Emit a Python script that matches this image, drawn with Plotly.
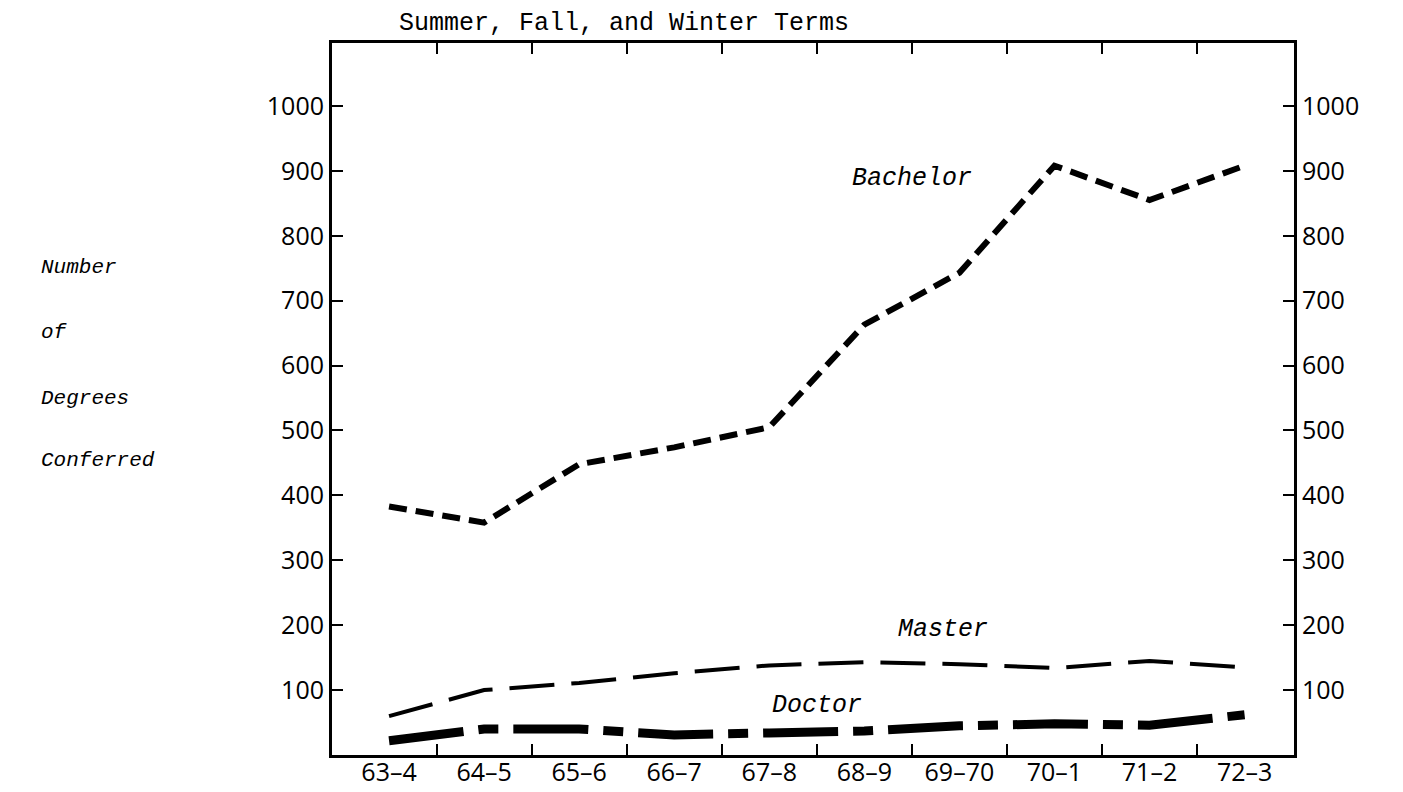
import plotly.graph_objects as go

years = ["63–4", "64–5", "65–6", "66–7", "67–8", "68–9", "69–70", "70–1", "71–2", "72–3"]
bachelor = [383, 358, 448, 474, 505, 663, 743, 908, 855, 908]
master = [60, 100, 111, 126, 138, 143, 140, 134, 145, 135]
doctor = [22, 40, 40, 31, 34, 37, 45, 48, 46, 62]
y_ticks = [100, 200, 300, 400, 500, 600, 700, 800, 900, 1000]

idx = list(range(len(years)))
boundaries = [i + 0.5 for i in idx[:-1]]

MONO = "Liberation Mono"
SANS = "Open Sans"

fig = go.Figure()
fig.add_trace(go.Scatter(x=idx, y=bachelor, mode="lines", name="Bachelor",
                         line=dict(color="black", width=6, dash="18px,9px"), hoverinfo="skip"))
fig.add_trace(go.Scatter(x=idx, y=master, mode="lines", name="Master", yaxis="y2",
                         line=dict(color="black", width=4, dash="45px,17px"), hoverinfo="skip"))
fig.add_trace(go.Scatter(x=idx, y=doctor, mode="lines", name="Doctor", xaxis="x2",
                         line=dict(color="black", width=9, dash="75px,15px,20px,15px"), hoverinfo="skip"))

axis_font = dict(family=SANS, size=25, color="black")
tick_style = dict(ticks="inside", ticklen=11, tickwidth=2, tickcolor="black")
fig.update_layout(
    width=1403, height=792,
    margin=dict(l=324, r=117, t=35, b=45, autoexpand=False),
    paper_bgcolor="white", plot_bgcolor="white",
    showlegend=False,
    # bottom/top frame with ticks between the terms
    xaxis=dict(range=[-0.6, 9.52], showgrid=False, zeroline=False, automargin=False,
               showline=True, linecolor="black", linewidth=3, mirror="ticks",
               tickvals=boundaries, showticklabels=False, **tick_style),
    # term labels under the axis
    xaxis2=dict(range=[-0.6, 9.52], overlaying="x", side="bottom", anchor="y", matches="x",
                showgrid=False, zeroline=False, showline=False, automargin=False,
                tickvals=idx, ticktext=years, ticks="", tickfont=axis_font),
    yaxis=dict(range=[0, 1097], showgrid=False, zeroline=False, automargin=False,
               showline=True, linecolor="black", linewidth=3,
               tickvals=y_ticks, tickfont=axis_font, **tick_style),
    yaxis2=dict(range=[0, 1097], overlaying="y", side="right", matches="y", showgrid=False,
                zeroline=False, showline=True, linecolor="black", linewidth=3, automargin=False,
                tickvals=y_ticks, tickfont=axis_font, **tick_style),
)

ann = []
ann.append(dict(text="Summer, Fall, and Winter Terms", xref="paper", yref="paper", x=0.304, y=1.028,
                xanchor="center", yanchor="middle", showarrow=False,
                font=dict(family=MONO, size=25, color="black")))
for label, yy in [("Number", 0.684), ("of", 0.593), ("Degrees", 0.501), ("Conferred", 0.413)]:
    ann.append(dict(text="<i>%s</i>" % label, xref="paper", yref="paper", x=-0.305, y=yy,
                    xanchor="left", yanchor="middle", showarrow=False,
                    font=dict(family=MONO, size=21, color="black")))
for label, xx, yy in [("Bachelor", 5.5, 889), ("Master", 5.83, 194), ("Doctor", 4.5, 77)]:
    ann.append(dict(text="<i>%s</i>" % label, xref="x", yref="y", x=xx, y=yy,
                    xanchor="center", yanchor="middle", showarrow=False,
                    font=dict(family=MONO, size=25, color="black")))
fig.update_layout(annotations=ann)

fig.write_html("out.html")
